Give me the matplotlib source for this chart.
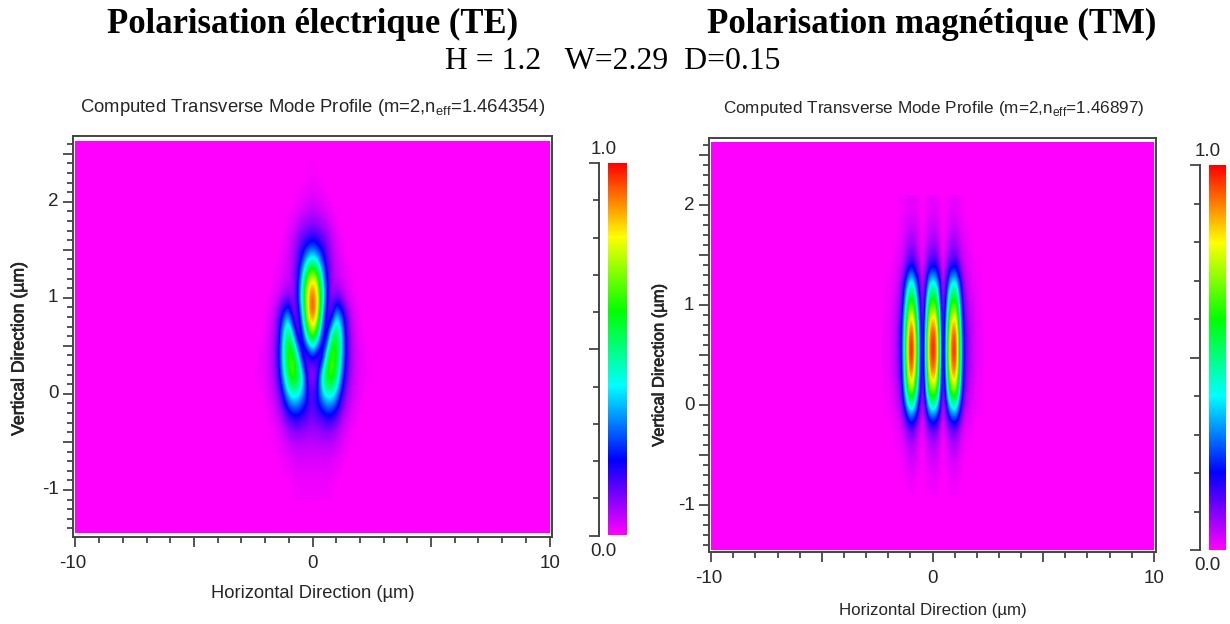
import numpy as np
import matplotlib
matplotlib.use("Agg")
import matplotlib.pyplot as plt
import matplotlib.patheffects as pe
from matplotlib.colors import LinearSegmentedColormap
from matplotlib.patches import Rectangle
from matplotlib.ticker import MultipleLocator

plt.rcParams['font.family'] = ['Liberation Sans', 'DejaVu Sans']
plt.rcParams['mathtext.fontset'] = 'custom'
plt.rcParams['mathtext.rm'] = 'Liberation Sans'

W, H = 1230, 624
INK = '#262626'

# field values (top row = highest y)
te_x = [-2.6, -2.4, -2.2, -2.0, -1.8, -1.6, -1.4, -1.2, -1.0, -.8, -.6, -.4, -.2, 0, .2, .4, .6, .8, 1.0, 1.2, 1.4, 1.6, 1.8, 2.0, 2.2, 2.4, 2.6]
te_y = [2.4, 2.2, 2.0, 1.8, 1.6, 1.4, 1.2, 1.0, .8, .6, .4, .2, 0, -.2, -.4, -.6, -.8, -1.0]
te_field = [
    [0, 0, 0, 0, 0, 0, 0, 0, 0, 0, 0, 0, 0, .005, 0, 0, 0, 0, 0, 0, 0, 0, 0, 0, 0, 0, 0],
    [0, 0, 0, 0, 0, 0, 0, 0, 0, 0, 0, .005, .01, .01, .01, .005, 0, 0, 0, 0, 0, 0, 0, 0, 0, 0, 0],
    [0, 0, 0, 0, 0, 0, 0, 0, 0, .005, .01, .02, .03, .03, .03, .02, .01, .005, 0, 0, 0, 0, 0, 0, 0, 0, 0],
    [0, 0, 0, 0, 0, 0, 0, 0, .01, .02, .04, .06, .07, .08, .07, .06, .04, .02, .01, 0, 0, 0, 0, 0, 0, 0, 0],
    [0, 0, 0, 0, 0, 0, 0, .01, .03, .06, .1, .13, .16, .18, .16, .13, .1, .06, .03, .01, 0, 0, 0, 0, 0, 0, 0],
    [0, 0, 0, 0, 0, 0, .01, .02, .04, .07, .14, .25, .38, .44, .38, .25, .14, .07, .04, .02, .01, 0, 0, 0, 0, 0, 0],
    [0, 0, 0, 0, 0, .01, .02, .03, .05, .07, .2, .42, .72, .84, .72, .42, .2, .07, .05, .03, .02, .01, 0, 0, 0, 0, 0],
    [0, 0, 0, 0, .01, .02, .04, .07, .1, .06, .22, .52, .84, .98, .84, .52, .22, .06, .12, .08, .04, .02, .01, 0, 0, 0, 0],
    [0, 0, 0, .01, .02, .05, .14, .28, .38, .08, .1, .4, .79, .97, .79, .4, .1, .12, .42, .3, .14, .06, .02, .01, 0, 0, 0],
    [0, 0, .005, .01, .03, .07, .17, .42, .6, .4, .06, .2, .5, .68, .5, .2, .1, .55, .6, .42, .17, .07, .03, .01, .005, 0, 0],
    [0, .005, .01, .02, .04, .08, .2, .45, .66, .66, .42, .08, .1, .2, .12, .07, .48, .68, .62, .4, .18, .08, .04, .02, .01, .005, 0],
    [0, .005, .01, .02, .04, .07, .17, .38, .6, .68, .6, .42, .12, .04, .14, .45, .65, .68, .55, .32, .14, .07, .03, .02, .01, .005, 0],
    [0, 0, .005, .01, .03, .05, .1, .22, .38, .45, .42, .33, .2, .12, .22, .35, .44, .44, .35, .18, .09, .05, .03, .01, .005, 0, 0],
    [0, 0, 0, .005, .01, .03, .05, .1, .16, .2, .2, .17, .14, .12, .14, .17, .2, .2, .15, .09, .05, .03, .01, .005, 0, 0, 0],
    [0, 0, 0, 0, .005, .01, .02, .04, .06, .08, .08, .08, .07, .07, .07, .08, .08, .08, .06, .04, .02, .01, .005, 0, 0, 0, 0],
    [0, 0, 0, 0, 0, .005, .01, .02, .03, .04, .04, .04, .04, .04, .04, .04, .04, .04, .03, .02, .01, .005, 0, 0, 0, 0, 0],
    [0, 0, 0, 0, 0, 0, 0, .005, .01, .02, .02, .02, .02, .02, .02, .02, .02, .02, .01, .005, 0, 0, 0, 0, 0, 0, 0],
    [0, 0, 0, 0, 0, 0, 0, 0, 0, .005, .01, .01, .01, .01, .01, .01, .01, .005, 0, 0, 0, 0, 0, 0, 0, 0, 0],
]

tm_x = [-2.4, -2.25, -2.1, -1.95, -1.8, -1.65, -1.5, -1.35, -1.2, -1.05, -.9, -.75, -.6, -.45, -.3, -.15, 0, .15, .3, .45, .6, .75, .9, 1.05, 1.2, 1.35, 1.5, 1.65, 1.8, 1.95, 2.1, 2.25, 2.4]
tm_y = [2.0, 1.8, 1.6, 1.4, 1.2, 1.0, .8, .6, .4, .2, 0, -.2, -.4, -.6, -.8]
tm_field = [
    [0, 0, 0, 0, 0, 0, .01, .01, .015, .02, .02, .015, .01, 0, .01, .02, .02, .02, .01, 0, .01, .015, .02, .02, .01, .01, 0, 0, 0, 0, 0, 0, 0],
    [0, 0, 0, 0, 0, .005, .01, .015, .03, .04, .04, .03, .015, 0, .02, .035, .04, .035, .02, 0, .015, .03, .04, .04, .02, .01, .005, .005, 0, 0, 0, 0, 0],
    [0, 0, 0, 0, .005, .01, .02, .03, .06, .08, .08, .06, .03, .005, .04, .08, .08, .08, .04, 0, .03, .07, .08, .08, .05, .03, .02, .01, .005, 0, 0, 0, 0],
    [0, 0, .005, .005, .01, .02, .03, .05, .1, .16, .16, .1, .05, .01, .08, .15, .16, .15, .08, .005, .07, .13, .16, .15, .09, .04, .03, .02, .01, .005, .005, 0, 0],
    [0, .005, .01, .01, .02, .03, .06, .14, .3, .45, .45, .3, .14, .015, .23, .41, .46, .41, .23, .01, .18, .37, .45, .44, .25, .1, .05, .03, .02, .01, .01, .005, 0],
    [0, .005, .01, .015, .03, .05, .08, .2, .45, .67, .67, .45, .22, .02, .37, .63, .68, .63, .37, .015, .28, .55, .67, .65, .38, .15, .07, .05, .03, .015, .01, .005, 0],
    [0, .01, .015, .02, .035, .065, .11, .28, .6, .9, .9, .6, .3, .03, .5, .86, .92, .86, .5, .02, .37, .74, .9, .87, .5, .2, .1, .065, .035, .02, .015, .01, 0],
    [0, .01, .015, .02, .04, .07, .12, .3, .68, .99, .99, .68, .33, .03, .55, .93, 1, .93, .55, .02, .42, .83, .99, .96, .58, .22, .11, .07, .04, .02, .015, .01, 0],
    [0, .01, .015, .02, .04, .07, .11, .29, .65, .96, .96, .65, .32, .03, .53, .9, .97, .9, .53, .02, .41, .8, .96, .93, .56, .21, .1, .07, .04, .02, .015, .01, 0],
    [0, .01, .01, .015, .03, .055, .09, .24, .54, .79, .79, .54, .26, .025, .44, .74, .8, .74, .44, .015, .34, .66, .79, .76, .46, .18, .08, .055, .03, .015, .01, .01, 0],
    [0, .005, .01, .01, .02, .035, .06, .15, .31, .47, .47, .31, .15, .015, .24, .43, .48, .43, .24, .01, .19, .38, .47, .46, .26, .11, .05, .035, .02, .01, .01, .005, 0],
    [0, 0, 0, .005, .01, .015, .02, .04, .09, .14, .14, .09, .04, .005, .07, .13, .14, .13, .07, .005, .06, .11, .14, .13, .08, .03, .02, .015, .01, .005, 0, 0, 0],
    [0, 0, 0, 0, .005, .01, .01, .02, .04, .06, .06, .04, .02, 0, .03, .05, .06, .05, .03, 0, .02, .05, .06, .06, .03, .015, .01, .005, 0, 0, 0, 0, 0],
    [0, 0, 0, 0, 0, 0, .005, .01, .02, .03, .03, .02, .01, 0, .015, .03, .03, .03, .015, 0, .01, .025, .03, .03, .015, .005, 0, 0, 0, 0, 0, 0, 0],
    [0, 0, 0, 0, 0, 0, 0, 0, .005, .01, .01, .005, 0, 0, .005, .01, .01, .01, .005, 0, 0, .01, .01, .01, .005, 0, 0, 0, 0, 0, 0, 0, 0],
]

x_labelled = [-10, 0, 10]
y_labelled = [-1, 0, 1, 2]
domain_x = (-10, 10)
domain_y = (-1.45, 2.635)

titles = ["Computed Transverse Mode Profile (m=2,n$_{\\mathrm{eff}}$=1.464354)",
          "Computed Transverse Mode Profile (m=2,n$_{\\mathrm{eff}}$=1.46897)"]

cmap = LinearSegmentedColormap.from_list('rsoft', ['#ff00ff', '#0000ff', '#00ffff', '#00ff00', '#ffff00', '#ff0000'])

fig = plt.figure(figsize=(W / 100, H / 100), dpi=100)


def axes_px(x0, y0, x1, y1):
    return fig.add_axes([x0 / W, 1 - y1 / H, (x1 - x0) / W, (y1 - y0) / H])


def panel(box, xlim, ylim, xs, ys, field, title, title_xy, title_size, xlabel_xy, ylabel_xy, label_size, ylabel_size):
    ax = axes_px(*box)
    ax.add_patch(Rectangle((domain_x[0], domain_y[0]), domain_x[1] - domain_x[0], domain_y[1] - domain_y[0],
                           color='#ff00ff', lw=0, zorder=1))
    dx = xs[1] - xs[0]
    dy = ys[0] - ys[1]
    ax.imshow(field, cmap=cmap, vmin=0, vmax=1, interpolation='bicubic', aspect='auto', zorder=2,
              extent=(xs[0] - dx / 2, xs[-1] + dx / 2, ys[-1] - dy / 2, ys[0] + dy / 2))
    ax.set_xlim(*xlim)
    ax.set_ylim(*ylim)
    ax.xaxis.set_major_locator(MultipleLocator(5))
    ax.xaxis.set_minor_locator(MultipleLocator(1))
    ax.yaxis.set_major_locator(MultipleLocator(0.5))
    ax.yaxis.set_minor_locator(MultipleLocator(0.1))
    ax.set_xticklabels([])
    ax.set_yticklabels([])
    ax.tick_params(which='major', length=7, width=1.1, color=INK)
    ax.tick_params(which='minor', length=4, width=1.1, color=INK)
    for s in ax.spines.values():
        s.set_color('#444444')
        s.set_linewidth(1.4)
    for v in x_labelled:
        ax.annotate(str(v), (v, 0), xycoords=('data', 'axes fraction'), xytext=(-2 if v < 0 else 0, -13),
                    textcoords='offset points', ha='center', va='top', fontsize=13.5, color=INK)
    for v in y_labelled:
        ax.annotate(str(v), (0, v), xycoords=('axes fraction', 'data'), xytext=(-10.5, 0), textcoords='offset points',
                    ha='right', va='center', fontsize=13.5, color=INK)
    fig.text(title_xy[0] / W, 1 - title_xy[1] / H, title, ha='center', va='center', fontsize=title_size, color=INK)
    fig.text(xlabel_xy[0] / W, 1 - xlabel_xy[1] / H, "Horizontal Direction (\u00b5m)", ha='center', va='center',
             fontsize=label_size, color=INK)
    fig.text(ylabel_xy[0] / W, 1 - ylabel_xy[1] / H, "Vertical Direction (\u00b5m)", ha='center', va='center',
             rotation=90, fontsize=ylabel_size, color=INK,
             path_effects=[pe.withStroke(linewidth=0.5, foreground=INK)])
    return ax


def colorbar(box, bar_start, top_xy, bottom_xy):
    ax = axes_px(*box)
    grad = np.linspace(0, 1, 256).reshape(-1, 1)
    ax.imshow(grad, cmap=cmap, vmin=0, vmax=1, origin='lower', aspect='auto', extent=(bar_start, 1, 0, 1))
    ax.set_xlim(0, 1)
    ax.set_ylim(0, 1)
    ax.set_xticks([])
    ax.yaxis.set_major_locator(MultipleLocator(0.5))
    ax.yaxis.set_minor_locator(MultipleLocator(0.1))
    ax.set_yticklabels([])
    ax.tick_params(which='major', length=7, width=1.1, color=INK)
    ax.tick_params(which='minor', length=4, width=1.1, color=INK)
    for side in ['top', 'right', 'bottom']:
        ax.spines[side].set_visible(False)
    ax.spines['left'].set_color('#444444')
    ax.spines['left'].set_linewidth(1.4)
    fig.text(top_xy[0] / W, 1 - top_xy[1] / H, "1.0", ha='center', va='center', fontsize=13.5, color=INK)
    fig.text(bottom_xy[0] / W, 1 - bottom_xy[1] / H, "0.0", ha='center', va='center', fontsize=13.5, color=INK)


panel((73, 135.5, 552, 537), (-10.1, 10.1), (-1.49, 2.69), te_x, te_y, te_field, titles[0],
      (313, 108), 13.3, (313, 593), (19, 349), 13.2, 12.7)
panel((709, 137.5, 1156, 552), (-10.1, 10.1), (-1.47, 2.68), tm_x, tm_y, tm_field, titles[1],
      (934, 109), 12.3, (933, 610), (659, 365), 12.2, 11.9)

colorbar((598.7, 163, 626, 535.5), 0.34, (604, 149), (603, 551))
colorbar((1200, 165.5, 1225, 550), 0.35, (1208, 151), (1207, 566))

fig.text(313 / W, 1 - 33 / H, "Polarisation \u00e9lectrique (TE)", family='Liberation Serif', weight='bold',
         fontsize=24.9, ha='center', va='baseline', color='black')
fig.text(932 / W, 1 - 33 / H, "Polarisation magn\u00e9tique (TM)", family='Liberation Serif', weight='bold',
         fontsize=25, ha='center', va='baseline', color='black')
fig.text(613 / W, 1 - 69 / H, "H = 1.2   W=2.29  D=0.15", family='Liberation Serif', fontsize=22.9,
         ha='center', va='baseline', color='black')

fig.savefig('out.png', dpi=100)
